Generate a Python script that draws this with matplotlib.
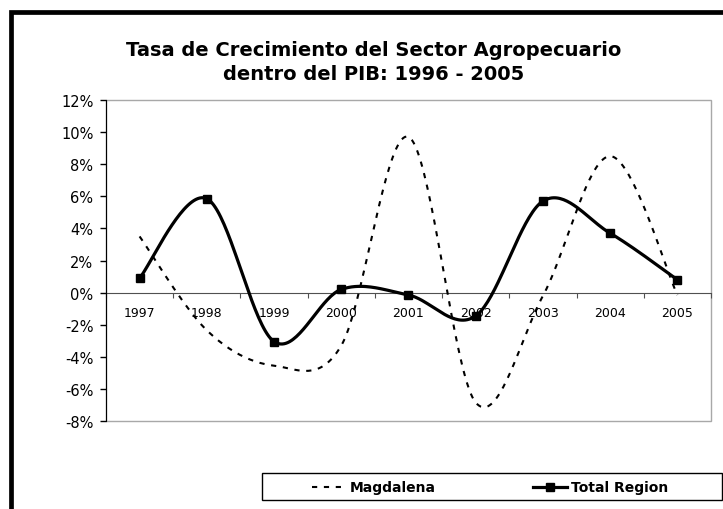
import matplotlib

matplotlib.use("Agg")
import matplotlib.pyplot as plt
import numpy as np
from matplotlib.lines import Line2D
from matplotlib.patches import Rectangle

years = ["1997", "1998", "1999", "2000", "2001", "2002", "2003", "2004", "2005"]
magdalena = [3.5, -2.35, -4.55, -3.3, 9.7, -6.85, -0.2, 8.5, -0.15]
total_region = [0.9, 5.85, -3.05, 0.2, -0.15, -1.45, 5.7, 3.7, 0.8]
y_ticks = [-8, -6, -4, -2, 0, 2, 4, 6, 8, 10, 12]


def excel_smooth(y, n=40):
    # bezier smoothing like excel's "smoothed line" option
    pts = np.column_stack([np.arange(len(y)), y]).astype(float)
    pad = np.vstack([pts[0], pts, pts[-1]])
    t = np.linspace(0, 1, n)[:, None]
    out = []
    for i in range(len(pts) - 1):
        p0, p1, p2, p3 = pad[i:i + 4]
        c1 = p1 + (p2 - p0) / 6
        c2 = p2 - (p3 - p1) / 6
        seg = (1 - t) ** 3 * p1 + 3 * (1 - t) ** 2 * t * c1 + 3 * (1 - t) * t ** 2 * c2 + t ** 3 * p2
        out.append(seg if i == 0 else seg[1:])
    return np.vstack(out)


fig = plt.figure(figsize=(7.23, 5.10), dpi=100)
ax = fig.add_axes([0.1466, 0.1725, 0.8368, 0.6295])

m = excel_smooth(magdalena)
ax.plot(m[:, 0], m[:, 1], color="black", lw=1.5, dashes=(2.5, 3.2), zorder=3)
tr = excel_smooth(total_region)
ax.plot(tr[:, 0], tr[:, 1], color="black", lw=2.3, zorder=4)
ax.plot(range(len(years)), total_region, ls="none", marker="s", ms=5.5, color="black", zorder=5)

ax.set_xlim(-0.5, len(years) - 0.5)
ax.set_ylim(-8, 12)
ax.set_yticks(y_ticks)
ax.set_yticklabels([f"{v}%" for v in y_ticks], fontsize=10.5)
ax.tick_params(axis="y", direction="out", length=4, width=1, pad=5)

# category axis sits on the zero line
ax.spines["bottom"].set_position(("data", 0))
ax.spines["bottom"].set_color("#505050")
ax.set_xticks(np.arange(len(years) + 1) - 0.5)
ax.set_xticklabels([])
ax.set_xticks(range(len(years)), minor=True)
ax.set_xticklabels(years, minor=True, fontsize=9)
ax.tick_params(axis="x", which="major", direction="out", length=3.5, color="#505050")
ax.tick_params(axis="x", which="minor", length=0, pad=10)

for s in ["top", "right"]:
    ax.spines[s].set_visible(False)
ax.add_patch(Rectangle((0, 0), 1, 1, transform=ax.transAxes, fill=False,
                       edgecolor="#a8a8a8", lw=1, zorder=0, clip_on=False))
ax.spines["left"].set_zorder(6)

fig.text(0.517, 0.877, "Tasa de Crecimiento del Sector Agropecuario\ndentro del PIB: 1996 - 2005",
         ha="center", va="center", fontsize=14, fontweight="bold", linespacing=1.3)

# legend box drawn by hand to match the original layout
W, H = 723.0, 510.0
fig.add_artist(Rectangle((261.7 / W, 1 - 501 / H), 460 / W, 26.7 / H, transform=fig.transFigure,
                         fill=False, edgecolor="black", lw=1))
ly = 1 - 488 / H
fig.add_artist(Line2D([312 / W, 342 / W], [ly, ly], transform=fig.transFigure,
                      color="black", lw=1.5, dashes=(2.5, 3.2)))
fig.text(350 / W, ly, "Magdalena", fontsize=10, fontweight="bold", va="center")
fig.add_artist(Line2D([533 / W, 567 / W], [ly, ly], transform=fig.transFigure,
                      color="black", lw=2.3))
fig.add_artist(Line2D([550 / W], [ly], transform=fig.transFigure, marker="s", ms=5.5, color="black"))
fig.text(571 / W, ly, "Total Region", fontsize=10, fontweight="bold", va="center")

# heavy outer frame (only left and top fall inside the picture)
fig.add_artist(Line2D([10.8 / W, 10.8 / W, 1.0], [0.0, 1 - 13 / H, 1 - 13 / H],
                      transform=fig.transFigure, color="black", lw=3.4,
                      solid_joinstyle="miter"))

fig.savefig("out.png", dpi=100)
